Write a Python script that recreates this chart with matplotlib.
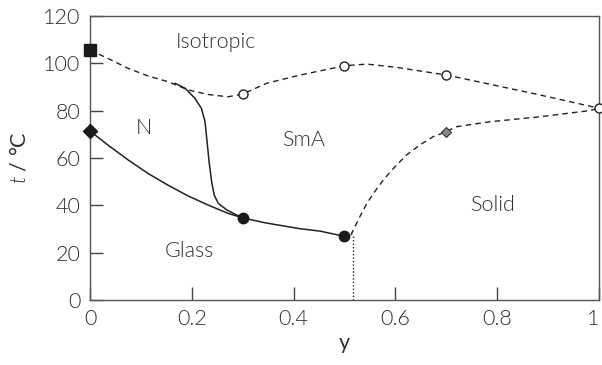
import matplotlib
matplotlib.use('Agg')
import matplotlib.pyplot as plt

plt.rcParams['font.family'] = ['Lato', 'DejaVu Sans']
plt.rcParams['font.weight'] = 300
plt.rcParams['mathtext.fontset'] = 'custom'
plt.rcParams['mathtext.it'] = 'Lato:italic:weight=300'
plt.rcParams['mathtext.rm'] = 'Lato:weight=300'

# upper dashed boundary (isotropic)
iso_y = [0.0, 0.035, 0.075, 0.114, 0.153, 0.193, 0.232, 0.271, 0.3, 0.347, 0.413,
         0.5, 0.544, 0.603, 0.7, 0.753, 0.884, 1.0]
iso_t = [105.5, 102.0, 97.8, 94.6, 92.2, 88.7, 86.8, 85.8, 87.0, 91.5, 95.0,
         98.9, 99.6, 98.2, 95.0, 92.6, 86.6, 81.0]

# lower solid boundary (N / glass)
glass_y = [0.0, 0.035, 0.075, 0.114, 0.153, 0.193, 0.232, 0.271, 0.3, 0.344, 0.413, 0.452, 0.5]
glass_t = [71.4, 65.5, 59.2, 53.5, 48.6, 44.0, 40.2, 36.7, 34.8, 32.7, 30.2, 29.2, 27.0]

# N / SmA boundary
nsma_y = [0.167, 0.187, 0.206, 0.219, 0.226, 0.230, 0.234, 0.239, 0.244, 0.252, 0.269, 0.288, 0.3]
nsma_t = [91.5, 89.4, 85.2, 80.9, 75.3, 66.9, 58.4, 50.0, 44.4, 40.9, 38.1, 36.0, 35.0]

# SmA / Solid boundary
solid_y = [0.513, 0.517, 0.530, 0.544, 0.557, 0.576, 0.596, 0.622, 0.648, 0.674, 0.688,
           0.701, 0.720, 0.786, 0.884, 0.982, 1.0]
solid_t = [27.5, 29.6, 35.2, 40.9, 45.1, 50.7, 55.6, 61.3, 65.5, 69.0, 70.1,
           71.3, 73.2, 75.3, 77.4, 80.0, 81.0]

# vertical dotted line under the SmA / Solid boundary
vert_y = [0.516, 0.516]
vert_t = [0, 27.5]

# markers
square_y, square_t = [0.0], [105.5]
diamond_y, diamond_t = [0.0], [71.4]
filled_y = [0.3, 0.5]
filled_t = [34.8, 27.0]
open_y = [0.3, 0.5, 0.7, 1.0]
open_t = [87.0, 99.0, 95.0, 81.0]
gray_y, gray_t = [0.7], [70.8]

label_text = ['Isotropic', 'N', 'SmA', 'Solid', 'Glass']
label_y = [0.247, 0.106, 0.42, 0.79, 0.196]
label_t = [109, 72.5, 67.5, 40, 21]

fig = plt.figure(figsize=(6.02, 3.65), dpi=100)
ax = fig.add_axes([0.1495, 0.177, 0.8455, 0.78])

dash = (0, (4, 3))
lc = '#222222'
tc = '#2e2e2e'
ax.plot(iso_y, iso_t, color=lc, lw=1, ls=dash, zorder=2)
ax.plot(glass_y, glass_t, color=lc, lw=1.1, zorder=2)
ax.plot(nsma_y, nsma_t, color=lc, lw=1.1, zorder=2)
ax.plot(solid_y, solid_t, color=lc, lw=1, ls=dash, zorder=2)
ax.plot(vert_y, vert_t, color=lc, lw=1, ls=(0, (1, 1.5)), zorder=2)

ax.plot(square_y, square_t, 's', ms=9, color='#1a1a1a', clip_on=False, zorder=5)
ax.plot(diamond_y, diamond_t, 'D', ms=7, color='#1a1a1a', clip_on=False, zorder=5)
ax.plot(filled_y, filled_t, 'o', ms=7.5, color='#1a1a1a', zorder=5)
ax.plot(open_y, open_t, 'o', ms=6.5, mfc='white', mec=lc, mew=1, clip_on=False, zorder=5)
ax.plot(gray_y, gray_t, 'D', ms=5, mfc='#8a8a8a', mec='#333333', mew=0.8, zorder=5)

for txt, x, y in zip(label_text, label_y, label_t):
    ax.text(x, y, txt, ha='center', va='center', fontsize=15.5, color=tc)

ax.set_xlim(0, 1)
ax.set_ylim(0, 120)
ax.set_xticks([0, 0.2, 0.4, 0.6, 0.8, 1])
ax.set_xticklabels(['0', '0.2', '0.4', '0.6', '0.8', '1'])
ax.set_yticks(range(0, 121, 20))
ax.tick_params(direction='in', length=9.5, width=1, colors='#444444',
               labelsize=15.5, labelcolor=tc)
ax.tick_params(axis='x', pad=6)
ax.tick_params(axis='y', pad=7)
ax.get_xticklabels()[-1].set_horizontalalignment('right')
for s in ax.spines.values():
    s.set_color('#555555')
    s.set_linewidth(1)

ax.set_xlabel('y', fontsize=15.5, color=tc, labelpad=3)
ax.set_ylabel(r'$t$ / °C', fontsize=15.5, color=tc, labelpad=10)

fig.savefig('out.png', dpi=100, facecolor='white')
